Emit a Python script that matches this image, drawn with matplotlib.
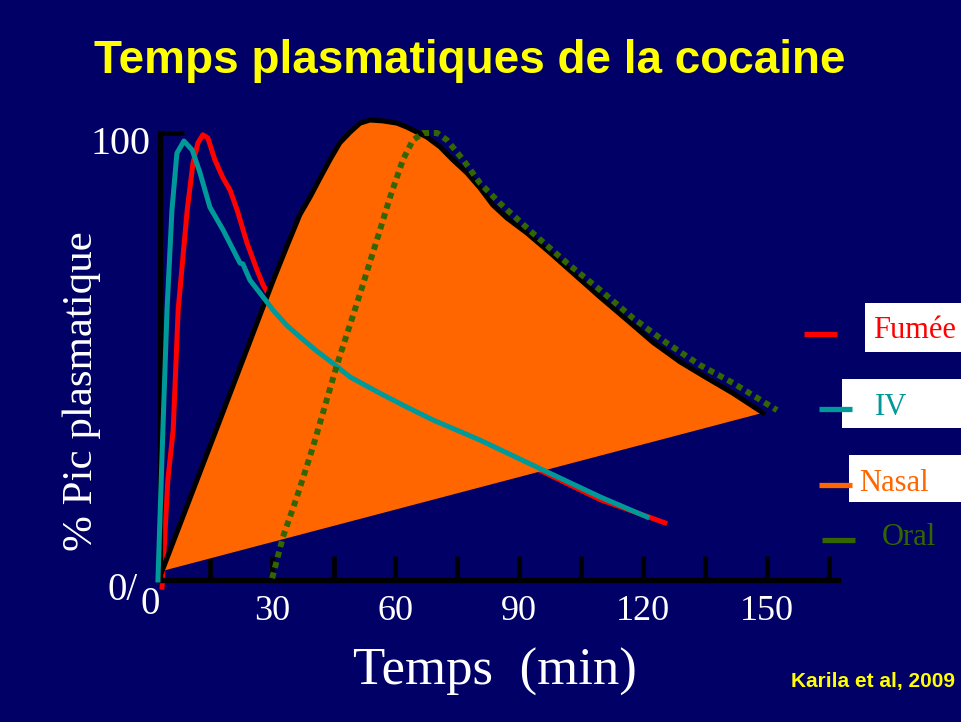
import matplotlib
matplotlib.use('Agg')
import matplotlib.pyplot as plt
from matplotlib import font_manager
from matplotlib.patches import Rectangle
from matplotlib.lines import Line2D

W, H = 962, 722
BG = '#000066'
C_SMOKE = '#FF0000'
C_IV = '#009999'
C_NASAL = '#FF6600'
C_ORAL = '#336600'
YELLOW = '#FFFF00'

# ---- data (time in minutes, % of plasma peak) ----
iv_t = [2.4, 3.6, 4.6, 5.8, 7.0, 8.7, 10.7, 12.6, 15.0, 18.2, 22.3, 23.0, 24.7,
        27.9, 30.3, 33.6, 36.8, 40.8, 44.8, 49.0, 56.2, 62.5, 69.1, 80.5, 96.7,
        109.6, 121.0]
iv_v = [0, 33.6, 60.4, 82.8, 95.5, 98.2, 96.2, 91.1, 83.4, 78.3, 70.9, 70.7, 67.1,
        63.3, 60.4, 57.0, 54.4, 51.3, 48.5, 45.4, 41.8, 38.8, 35.8, 31.3, 24.2,
        18.6, 14.1]

smoke_t = [3.4, 4.8, 6.1, 7.3, 9.5, 10.9, 12.1, 13.3, 14.5, 16.2, 18.2, 19.9, 21.6,
           24.0, 26.4, 27.9, 29.6, 36.8, 56.2, 80.5, 96.7, 109.6, 125.3]
smoke_v = [-1.6, 22.4, 33.6, 60.4, 82.8, 93.3, 97.8, 99.6, 98.9, 94.0, 89.9, 87.2, 82.8,
           75.4, 69.4, 66.0, 63.3, 54.4, 41.5, 31.0, 23.8, 18.0, 12.8]

nasal_t = [3.4, 16.7, 30.3, 33.6, 36.8, 39.3, 41.7, 44.1, 46.5, 49.0, 51.4, 53.8,
           57.0, 60.4, 62.8, 65.2, 67.6, 70.8, 73.9, 77.3, 80.5, 83.6, 87.0, 91.9,
           97.5, 103.0, 109.6, 116.1, 122.4, 129.0, 135.5, 141.8, 149.1]
nasal_v = [2.0, 34.0, 66.9, 74.5, 81.7, 85.7, 89.9, 94.0, 97.8, 100.2, 102.2, 102.9,
           102.7, 102.2, 101.3, 100.2, 99.1, 96.9, 94.0, 91.1, 87.7, 83.9, 81.0, 77.6,
           73.2, 68.7, 63.3, 58.2, 53.2, 48.8, 45.2, 41.8, 37.4]

oral_t = [30.1, 32.7, 36.1, 40.0, 45.8, 50.9, 55.5, 58.7, 61.8, 64.2, 66.7, 70.1,
          72.5, 76.4, 80.5, 85.3, 93.3, 101.6, 109.6, 117.6, 125.8, 133.8, 141.8, 152.5]
oral_v = [0.4, 9.6, 18.6, 29.8, 48.1, 62.6, 76.1, 85.7, 94.0, 98.4, 100, 100,
          98.4, 94.0, 88.8, 84.3, 77.6, 70.9, 64.9, 58.6, 53.0, 48.1, 44.1, 38.0]

x_ticks = [15, 30, 45, 60, 75, 90, 105, 120, 135, 150, 165]
x_labels = ['', '30', '', '60', '', '90', '', '120', '', '150', '']

legend_names = ['Fumée', 'IV', 'Nasal', 'Oral']
legend_colors = [C_SMOKE, C_IV, C_NASAL, C_ORAL]

# ---- fonts ----
names = {f.name for f in font_manager.fontManager.ttflist}
SERIF = ['Liberation Serif', 'DejaVu Serif']
if 'Liberation Sans Narrow' in names:
    NARROW = ['Liberation Sans Narrow', 'DejaVu Sans']
    title_size = 38
else:
    NARROW = ['Liberation Sans', 'DejaVu Sans']
    title_size = 33
plt.rcParams['font.family'] = SERIF

def fx(px):
    return px / W

def fy(py):
    return 1 - py / H

fig = plt.figure(figsize=(W / 100, H / 100), dpi=100, facecolor=BG)
ax = fig.add_axes([fx(160), fy(580), (838 - 160) / W, (580 - 133) / H])
ax.set_facecolor(BG)
ax.set_xlim(2.9, 167.3)
ax.set_ylim(0, 100)

for s in ['top', 'right']:
    ax.spines[s].set_visible(False)
for s in ['left', 'bottom']:
    ax.spines[s].set_color('black')
    ax.spines[s].set_linewidth(3.8)

ax.set_xticks(x_ticks)
ax.set_xticklabels(x_labels)
ax.tick_params(axis='x', direction='in', length=17, width=3.4, color='black',
               labelsize=26, labelcolor='white', pad=11)
ax.set_yticks([100])
ax.set_yticklabels([''])
ax.tick_params(axis='y', direction='in', length=17, width=3.6, color='black')

# series
ax.plot(smoke_t, smoke_v, color=C_SMOKE, lw=3.6, zorder=2, clip_on=False,
        solid_joinstyle='round')
ax.fill(nasal_t, nasal_v, color=C_NASAL, lw=0, zorder=3, clip_on=False)
ax.plot(nasal_t, nasal_v, color='black', lw=3.6, zorder=4, clip_on=False,
        solid_joinstyle='round')
ax.plot(iv_t, iv_v, color=C_IV, lw=3.6, zorder=5, clip_on=False,
        solid_joinstyle='round')
ax.plot(oral_t, oral_v, color=C_ORAL, lw=4.3, ls=(0, (1, 0.8)),
        dash_capstyle='butt', zorder=6, clip_on=False)

# axis texts
fig.text(fx(151), fy(154), '100', color='white', fontsize=29, ha='right',
         va='baseline', family=SERIF)
fig.text(fx(138), fy(600), '0/', color='white', fontsize=28, ha='right',
         va='baseline', family=SERIF)
fig.text(fx(150), fy(614), '0', color='white', fontsize=28, ha='center',
         va='baseline', family=SERIF)
fig.text(fx(495), fy(685), 'Temps  (min)', color='white', fontsize=38,
         ha='center', va='baseline', family=SERIF)
fig.text(fx(81.5), fy(391), '% Pic plasmatique', color='white', fontsize=31,
         rotation=90, ha='center', va='center', family=SERIF)

# title and source
fig.text(fx(470), fy(73), 'Temps plasmatiques de la cocaine', color=YELLOW,
         fontsize=title_size, fontweight='bold', ha='center', va='baseline',
         family=NARROW)
fig.text(fx(955), fy(687), 'Karila et al, 2009', color=YELLOW, fontsize=15,
         fontweight='bold', ha='right', va='baseline', family=NARROW)

# legend (manual, like the slide)
boxes = [(865, 303, 962, 352), (842, 379, 962, 428), (849, 455, 962, 502), None]
lines = [(804, 837, 334), (819, 852, 409), (819, 852, 485), (822, 855, 540)]
texts = [(873, 338), (875, 415), (859, 491), (882, 545)]
for name, col, box, ln, tx in zip(legend_names, legend_colors, boxes, lines, texts):
    if box is not None:
        x0, y0, x1, y1 = box
        fig.add_artist(Rectangle((fx(x0), fy(y1)), (x1 - x0) / W, (y1 - y0) / H,
                                 transform=fig.transFigure, facecolor='white',
                                 edgecolor='none'))
    fig.add_artist(Line2D([fx(ln[0]), fx(ln[1])], [fy(ln[2]), fy(ln[2])],
                          transform=fig.transFigure, color=col, lw=3.8,
                          solid_capstyle='butt'))
    fig.text(fx(tx[0]), fy(tx[1]), name, color=col, fontsize=22, ha='left',
             va='baseline', family=SERIF)

fig.savefig('out.png', dpi=100, facecolor=BG)
